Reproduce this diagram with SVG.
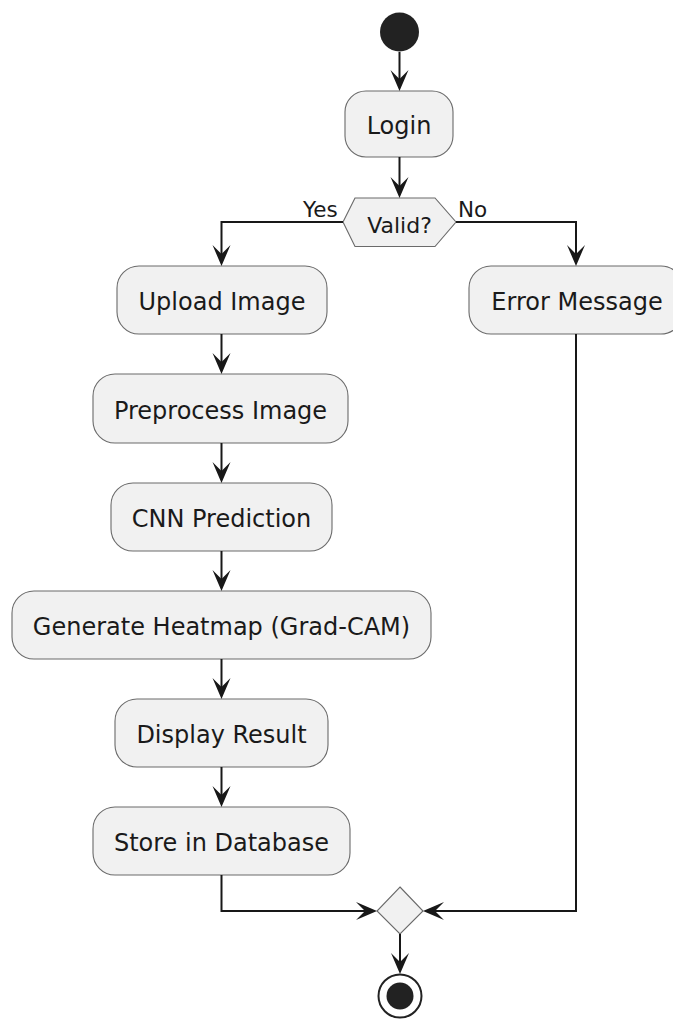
<svg xmlns="http://www.w3.org/2000/svg" width="673" height="1019" viewBox="0 0 673 1019">
<style>
.box{fill:#F1F1F1;stroke:#6a6a6a;stroke-width:1.1}
.t{font-family:"DejaVu Sans",sans-serif;font-size:24px;fill:#1a1a1a;text-anchor:middle}
.s{font-family:"DejaVu Sans",sans-serif;font-size:21.5px;fill:#1a1a1a}
.ln{fill:none;stroke:#181818;stroke-width:2}
.ah{fill:#181818;stroke:none}
</style>
<defs>
<path id="ad" d="M0,0 L-9,-21 L0,-12 L9,-21 Z"/>
</defs>
<rect width="673" height="1019" fill="#ffffff"/>
<g id="start"><circle cx="399.5" cy="32" r="19.5" fill="#222222"/></g>
<g id="login"><rect class="box" x="345" y="91" width="108" height="66" rx="21"/><text class="t" x="399" y="133.5">Login</text></g>
<g id="valid"><polygon class="box" points="343,222 355,198 435,198 456,222 435,246.5 355,246.5"/><text class="t" x="399.5" y="233" style="font-size:22px">Valid?</text>
<text class="s" x="303" y="217">Yes</text><text class="s" x="458" y="217">No</text></g>
<g id="upload"><rect class="box" x="117" y="266" width="210" height="68" rx="22"/><text class="t" x="222" y="309.5">Upload Image</text></g>
<g id="error"><rect class="box" x="469" y="266" width="214" height="68" rx="22"/><text class="t" x="577" y="309.5">Error Message</text></g>
<g id="preprocess"><rect class="box" x="93" y="374" width="255" height="69" rx="22"/><text class="t" x="220.5" y="418.5">Preprocess Image</text></g>
<g id="cnn"><rect class="box" x="111" y="483" width="221" height="68" rx="22"/><text class="t" x="221.5" y="526.5">CNN Prediction</text></g>
<g id="heatmap"><rect class="box" x="12" y="591" width="419" height="68" rx="22"/><text class="t" x="221.5" y="634.5">Generate Heatmap (Grad-CAM)</text></g>
<g id="display"><rect class="box" x="115" y="699" width="213" height="68" rx="22"/><text class="t" x="221.5" y="742.5">Display Result</text></g>
<g id="store"><rect class="box" x="93" y="807" width="257" height="68" rx="22"/><text class="t" x="221.5" y="850.5">Store in Database</text></g>
<g id="merge"><polygon class="box" points="400,887 423,911 400,934 377,911"/></g>
<g id="end"><circle cx="400" cy="996" r="21.5" fill="#ffffff" stroke="#222222" stroke-width="2"/><circle cx="400" cy="996" r="13.5" fill="#222222"/></g>
<g id="connectors">
<path class="ln" d="M399.5,52 V85"/><use href="#ad" class="ah" x="399.5" y="91"/>
<path class="ln" d="M399.5,157 V192"/><use href="#ad" class="ah" x="399.5" y="198"/>
<path class="ln" d="M343,222 H221.5 V260"/><use href="#ad" class="ah" x="221.5" y="266"/>
<path class="ln" d="M456,222 H576 V260"/><use href="#ad" class="ah" x="576" y="266"/>
<path class="ln" d="M221.5,334 V368"/><use href="#ad" class="ah" x="221.5" y="374"/>
<path class="ln" d="M221.5,443 V477"/><use href="#ad" class="ah" x="221.5" y="483"/>
<path class="ln" d="M221.5,551 V585"/><use href="#ad" class="ah" x="221.5" y="591"/>
<path class="ln" d="M221.5,659 V693"/><use href="#ad" class="ah" x="221.5" y="699"/>
<path class="ln" d="M221.5,767 V801"/><use href="#ad" class="ah" x="221.5" y="807"/>
<path class="ln" d="M221.5,875 V911 H371"/><use href="#ad" class="ah" transform="translate(377,911) rotate(-90)"/>
<path class="ln" d="M576,334 V911 H429"/><use href="#ad" class="ah" transform="translate(423,911) rotate(90)"/>
<path class="ln" d="M400,934 V968"/><use href="#ad" class="ah" x="400" y="974"/>
</g>
</svg>
